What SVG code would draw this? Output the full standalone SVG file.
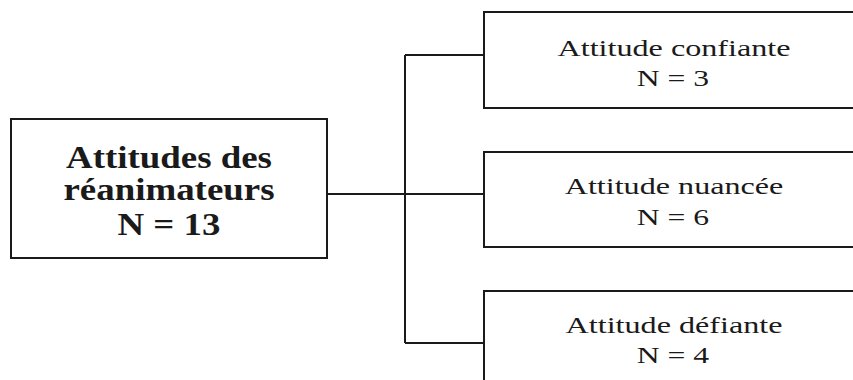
<svg xmlns="http://www.w3.org/2000/svg" width="853" height="380" viewBox="0 0 853 380">
<style>
.box{fill:#fff;stroke:#1a1a1a;stroke-width:2}
.conn{fill:none;stroke:#1a1a1a;stroke-width:2}
.t{font-family:"Liberation Serif","Times New Roman",serif;fill:#1a1a1a;text-anchor:middle}
.main{font-size:31px;font-weight:bold}
.sub{font-size:24px}
</style>
<rect width="853" height="380" fill="#fff"/>
<g id="connectors">
<path class="conn" d="M327 194H405M405 55V343M405 55H484M405 194H484M405 343H484"/>
</g>
<g id="root">
<rect class="box" x="11" y="119" width="316" height="139"/>
<text class="t main" transform="translate(169 168) scale(1.19 1)">Attitudes des</text>
<text class="t main" transform="translate(169 200) scale(1.19 1)">réanimateurs</text>
<text class="t main" transform="translate(169 235) scale(1.19 1)">N = 13</text>
</g>
<g id="confiante">
<rect class="box" x="484" y="12" width="380" height="96"/>
<text class="t sub" transform="translate(674 56) scale(1.34 1)">Attitude confiante</text>
<text class="t sub" transform="translate(673 86) scale(1.32 1)">N = 3</text>
</g>
<g id="nuancee">
<rect class="box" x="484" y="152" width="380" height="95"/>
<text class="t sub" transform="translate(674 194) scale(1.34 1)">Attitude nuancée</text>
<text class="t sub" transform="translate(673 225) scale(1.32 1)">N = 6</text>
</g>
<g id="defiante">
<rect class="box" x="484" y="291" width="380" height="100"/>
<text class="t sub" transform="translate(674 333) scale(1.34 1)">Attitude défiante</text>
<text class="t sub" transform="translate(673 363) scale(1.32 1)">N = 4</text>
</g>
</svg>
